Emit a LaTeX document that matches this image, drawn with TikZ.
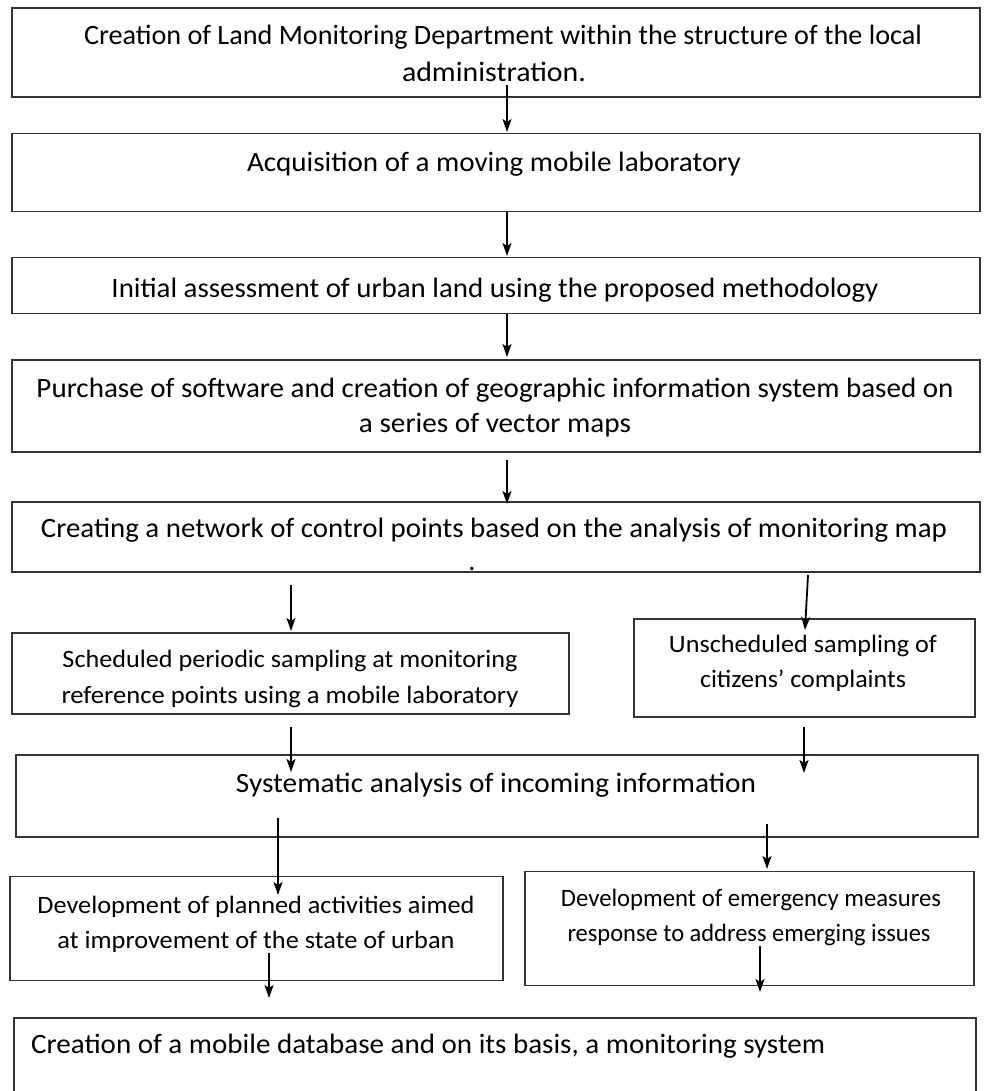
\documentclass[tikz,border=0pt]{standalone}
\usepackage{fontspec}
\setmainfont{Carlito}
\usepackage{graphicx}
\usetikzlibrary{arrows.meta}
\newcommand\fl[2]{\resizebox{#1pt}{\height}{#2}}
\tikzset{
  box/.style={draw=black!80, line width=1.3pt, inner sep=0pt, fill=none},
  big/.style={inner sep=0pt, anchor=base, font=\fontsize{28}{32}\selectfont},
  small/.style={inner sep=0pt, anchor=base, font=\fontsize{25}{29}\selectfont},
  arr/.style={line width=1.8pt, -{Stealth[length=13pt,width=9pt,inset=3pt]}}
}
\begin{document}
\begin{tikzpicture}[x=1pt,y=-1pt]
\useasboundingbox (0,0) rectangle (983,1091);
\clip (0,0) rectangle (983,1091);
% boxes
\node[box, minimum width=968pt, minimum height=89pt] (b1) at (496,52.5) {};
\node[box, minimum width=968pt, minimum height=78pt] (b2) at (496,172.5) {};
\node[box, minimum width=968pt, minimum height=56pt] (b3) at (496,285.5) {};
\node[box, minimum width=968pt, minimum height=92pt] (b4) at (496,406) {};
\node[box, minimum width=968pt, minimum height=70pt] (b5) at (496,537) {};
\node[box, minimum width=557pt, minimum height=81pt] (b6) at (290.5,673.5) {};
\node[box, minimum width=341pt, minimum height=98pt] (b7) at (804.5,668) {};
\node[box, minimum width=962pt, minimum height=82pt] (b8) at (497,796) {};
\node[box, minimum width=493pt, minimum height=104pt] (b9) at (256.5,928.5) {};
\node[box, minimum width=449pt, minimum height=114pt] (b10) at (749.5,928.5) {};
\node[box, minimum width=962pt, minimum height=82pt] (b11) at (495,1059) {};
% texts
\node[big] (t1a) at (503,45) {\fl{838}{Creation of Land Monitoring Department within the structure of the local}};
\node[big] (t1b) at (494,82) {\fl{184}{administration.}};
\node[big] (t2) at (494,172) {\fl{494}{Acquisition of a moving mobile laboratory}};
\node[big] (t3) at (495,297) {\fl{767}{Initial assessment of urban land using the proposed methodology}};
\node[big] (t4a) at (495,397) {\fl{917}{Purchase of software and creation of geographic information system based on}};
\node[big] (t4b) at (495,432) {\fl{272}{a series of vector maps}};
\node[big] (t5) at (494,537) {\fl{906}{Creating a network of control points based on the analysis of monitoring map}};
\node[big] (t5d) at (472,570) {.};
\node[small] (t6a) at (290,667) {\fl{455}{Scheduled periodic sampling at monitoring}};
\node[small] (t6b) at (290,703) {\fl{457}{reference points using a mobile laboratory}};
\node[small] (t7a) at (803,652) {\fl{268}{Unscheduled sampling of}};
\node[small] (t7b) at (803,687) {\fl{206}{citizens' complaints}};
\node[big] (t8) at (496,792) {\fl{520}{Systematic analysis of incoming information}};
\node[small] (t9a) at (256,913) {\fl{437}{Development of planned activities aimed}};
\node[small] (t9b) at (256,948) {\fl{397}{at improvement of the state of urban}};
\node[small] (t10a) at (751,906) {\fl{380}{Development of emergency measures}};
\node[small] (t10b) at (749,941) {\fl{363}{response to address emerging issues}};
\node[big, anchor=base west] (t11) at (31,1053) {\fl{794}{Creation of a mobile database and on its basis, a monitoring system}};
% arrow end points
\coordinate (a1s) at (507,85);   \coordinate (a1e) at (507,132);
\coordinate (a2s) at (507,212);  \coordinate (a2e) at (507,256);
\coordinate (a3s) at (507,314);  \coordinate (a3e) at (507,357);
\coordinate (a4s) at (507,460);  \coordinate (a4e) at (507,504);
\coordinate (a5ls) at (291,585); \coordinate (a5le) at (291,631);
\coordinate (a5rs) at (808,575); \coordinate (a5re) at (805,630);
\coordinate (a6ls) at (291,727); \coordinate (a6le) at (291,772);
\coordinate (a6rs) at (804,727); \coordinate (a6re) at (804,773);
\coordinate (a7ls) at (278,818); \coordinate (a7le) at (278,895);
\coordinate (a7rs) at (767,824); \coordinate (a7re) at (767,869);
\coordinate (a8ls) at (269,953); \coordinate (a8le) at (269,998);
\coordinate (a8rs) at (760,946); \coordinate (a8re) at (760,992);
\draw[arr] (a1s) -- (a1e);
\draw[arr] (a2s) -- (a2e);
\draw[arr] (a3s) -- (a3e);
\draw[arr] (a4s) -- (a4e);
\draw[arr] (a5ls) -- (a5le);
\draw[arr] (a5rs) -- (a5re);
\draw[arr] (a6ls) -- (a6le);
\draw[arr] (a6rs) -- (a6re);
\draw[arr] (a7ls) -- (a7le);
\draw[arr] (a7rs) -- (a7re);
\draw[arr] (a8ls) -- (a8le);
\draw[arr] (a8rs) -- (a8re);
\end{tikzpicture}
\end{document}
